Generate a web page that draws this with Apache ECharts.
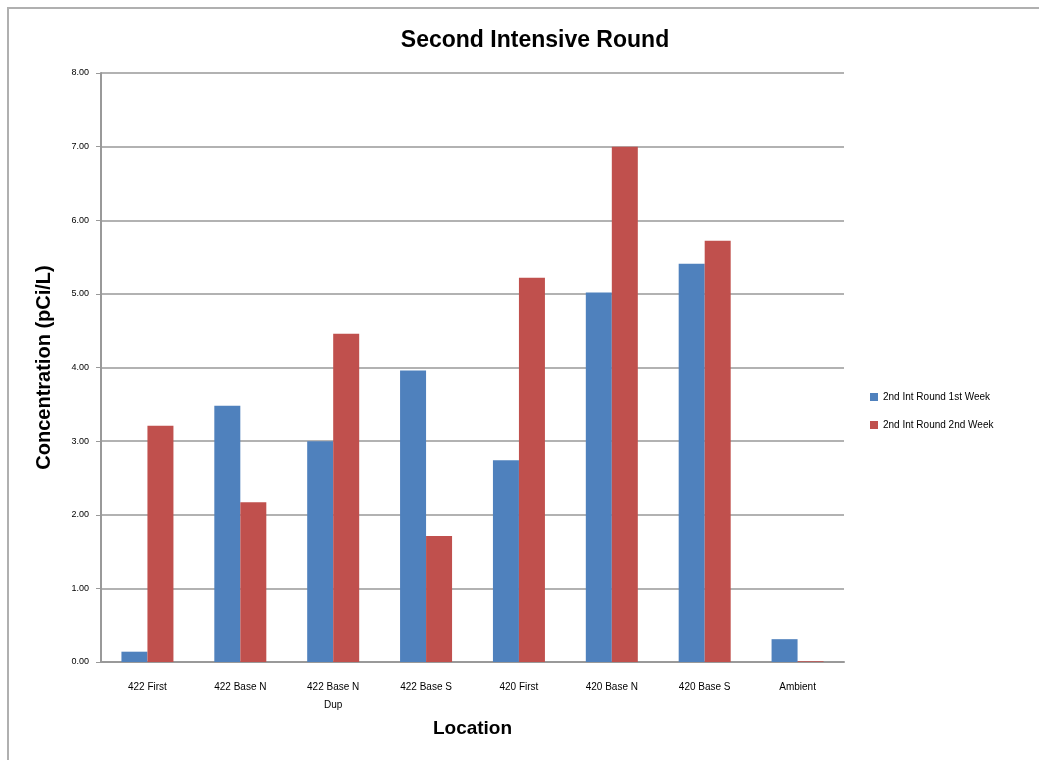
<!DOCTYPE html>
<html>
<head>
<meta charset="utf-8">
<script src="https://cdn.jsdelivr.net/npm/echarts@6/dist/echarts.min.js"></script>
<style>
html,body{margin:0;padding:0;background:#fff;}
#chart{width:1039px;height:760px;}
</style>
</head>
<body>
<div id="chart"></div>
<script>
const categories = ['422 First', '422 Base N', '422 Base N\nDup', '422 Base S', '420 First', '420 Base N', '420 Base S', 'Ambient'];
const week1 = [0.14, 3.48, 3.00, 3.96, 2.74, 5.02, 5.41, 0.31];
const week2 = [3.21, 2.17, 4.46, 1.71, 5.22, 7.00, 5.72, 0.01];
const seriesNames = ['2nd Int Round 1st Week', '2nd Int Round 2nd Week'];
const yTicks = { min: 0, max: 8, interval: 1 };

const chart = echarts.init(document.getElementById('chart'));
chart.setOption({
  backgroundColor: '#fff',
  animation: false,
  graphic: [{
    type: 'rect',
    shape: { x: 8, y: 8, width: 1100, height: 800 },
    style: { fill: 'none', stroke: '#b0b0b0', lineWidth: 2 },
    silent: true
  }],
  title: {
    text: 'Second Intensive Round',
    left: 530, top: 24, textAlign: 'center',
    textStyle: { fontFamily: 'Liberation Sans', fontSize: 23, fontWeight: 'bold', color: '#000' }
  },
  legend: {
    orient: 'vertical',
    left: 865, top: 387,
    itemWidth: 8, itemHeight: 8, itemGap: 18,
    icon: 'rect',
    textStyle: { fontFamily: 'Liberation Sans', fontSize: 10, color: '#000' },
    data: seriesNames
  },
  grid: { left: 101, right: 195, top: 73, bottom: 98, containLabel: false },
  xAxis: {
    type: 'category',
    data: categories,
    name: 'Location',
    nameLocation: 'middle',
    nameGap: 57,
    nameTextStyle: { fontFamily: 'Liberation Sans', fontSize: 19, fontWeight: 'bold', color: '#000' },
    axisLine: { lineStyle: { color: '#999', width: 2 } },
    axisTick: { show: false },
    axisLabel: { fontFamily: 'Liberation Sans', fontSize: 10, color: '#000', margin: 16, interval: 0, lineHeight: 18 }
  },
  yAxis: {
    type: 'value',
    min: yTicks.min, max: yTicks.max, interval: yTicks.interval,
    name: 'Concentration (pCi/L)',
    nameLocation: 'middle',
    nameGap: 47,
    nameTextStyle: { fontFamily: 'Liberation Sans', fontSize: 20, fontWeight: 'bold', color: '#000' },
    axisLine: { show: true, lineStyle: { color: '#999', width: 2 } },
    axisTick: { show: true, length: 5, lineStyle: { color: '#999' } },
    axisLabel: { fontFamily: 'Liberation Sans', fontSize: 9, color: '#000', margin: 12, formatter: v => v.toFixed(2) },
    splitLine: { lineStyle: { color: '#999', width: 1.5 } }
  },
  series: [
    { name: seriesNames[0], type: 'bar', data: week1, barWidth: 26, barGap: '0%', itemStyle: { color: '#4F81BD' } },
    { name: seriesNames[1], type: 'bar', data: week2, barWidth: 26, barGap: '0%', itemStyle: { color: '#C0504D' } }
  ]
});
</script>
</body>
</html>
